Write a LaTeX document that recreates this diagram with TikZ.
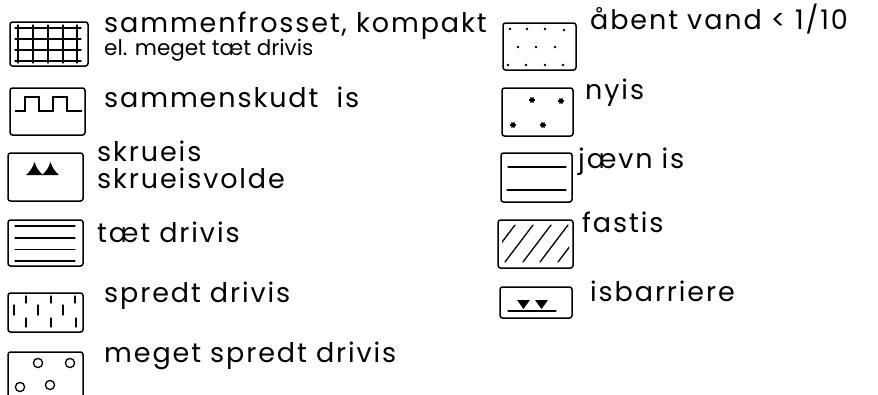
\documentclass[tikz,border=0pt]{standalone}
\usepackage{fontspec}
\setmainfont{Poppins}[LetterSpace=7]
\newfontfamily\tightfont{Poppins}
\begin{document}
\begin{tikzpicture}[x=1pt,y=-1pt]
\tikzset{
  legbox/.style={draw, line width=1.5pt, rounded corners=2.5pt},
  sym/.style={line width=1.3pt, line cap=round},
  lbl/.style={anchor=base west, inner sep=0pt, font=\fontsize{27}{27}\selectfont},
  lblsmall/.style={anchor=base west, inner sep=0pt, font=\tightfont\fontsize{21.5}{21.5}\selectfont},
}
\useasboundingbox (0,0) rectangle (878,394);

% ---------------- left column ----------------
% sammenfrosset, kompakt
\draw[legbox] (10,22) rectangle (88,66);
\foreach \x in {18,33,48,63,77} \draw[sym] (\x,25) -- (\x,63);
\foreach \y in {28,39,50,61} \draw[sym] (15,\y) -- (81,\y);
\node[lbl] (t1) at (104,32) {sammenfrosset, kompakt};
\node[lblsmall] (t1b) at (104,55) {el. meget tæt drivis};

% sammenskudt is
\draw[legbox] (10,88) rectangle (85,135);
\draw[sym, line cap=butt] (15,111) -- (25,111) -- (25,97) -- (39,97) -- (39,111)
  -- (53,111) -- (53,97) -- (67,97) -- (67,111) -- (82,111);
\node[lbl] (t2) at (104,107) {sammenskudt\ \ is};

% skrueis
\draw[legbox] (8,153) rectangle (83,201);
\foreach \dx in {0,16}
  \fill[shift={(\dx,0)}] (26,175) .. controls (30,172) and (33,167) .. (34.5,162)
    .. controls (36,167) and (39,172) .. (43,175) -- cycle;
\node[lbl] (t3) at (97,161) {skrueis};
\node[lbl] (t3b) at (97,188) {skrueisvolde};

% taet drivis
\draw[legbox] (8,220) rectangle (83,266);
\foreach \y in {226,238,249.5,261} \draw[sym] (15,\y) -- (75,\y);
\node[lbl] (t4) at (97,242) {tæt drivis};

% spredt drivis
\draw[legbox] (8,293) rectangle (83,332);
\foreach \x in {26,51,75} \draw[sym] (\x,296) -- (\x,303);
\foreach \x in {14,38,63} \draw[sym] (\x,305) -- (\x,315);
\foreach \x in {26,51,76} \draw[sym] (\x,318) -- (\x,327);
\node[lbl] (t5) at (104,302) {spredt drivis};

% meget spredt drivis (box runs off the lower edge)
\draw[legbox] (8,410) -- (8,352) -- (83,352) -- (83,410);
\foreach \p in {(38,363),(70,363),(20,387),(50,385)}
  \draw[line width=1.3pt] \p circle (4.6);
\node[lbl] (t6) at (104,362) {meget spredt drivis};

% ---------------- right column ----------------
% aabent vand
\draw[legbox] (503,23) rectangle (576,70);
\foreach \p in {(510,29),(527,29),(545,29),(564,30),(518,47),(536,47),(555,47),
                (508,65),(526,65),(545,65),(563,65)}
  \fill \p circle (1.3);
\node[lbl] (r1) at (590,29) {åbent vand < 1/10};

% nyis
\draw[legbox] (502,88) rectangle (573,136);
\foreach \p in {(532,100),(561,101),(513,125),(543,125)}
  \foreach \a in {0,60,120}
    \draw[line width=1.5pt, shift={\p}, rotate=\a] (-3,0) -- (3,0);
\node[lbl] (r2) at (585,99) {nyis};

% jaevn is
\draw[legbox] (501,153) rectangle (572,202);
\draw[sym] (508,167) -- (566,167);
\draw[sym] (507,190) -- (566,190);
\node[lbl] (r3) at (578,168) {jævn is};

% fastis
\draw[legbox] (498,220) rectangle (573,268);
\begin{scope}
  \clip (502,224) rectangle (569,264);
  \foreach \b in {487,505,523,540,558}
    \draw[sym] (\b,262) -- (\b+28,225);
\end{scope}
\node[lbl] (r4) at (582,232) {fastis};

% isbarriere
\draw[legbox] (500,287) rectangle (572,318);
\foreach \dx in {0,18}
  \fill[shift={(\dx,0)}] (517,300) -- (530,300) -- (523.5,309) -- cycle;
\draw[sym] (508,311) -- (556,311);
\node[lbl] (r5) at (590,301) {isbarriere};
\end{tikzpicture}
\end{document}
